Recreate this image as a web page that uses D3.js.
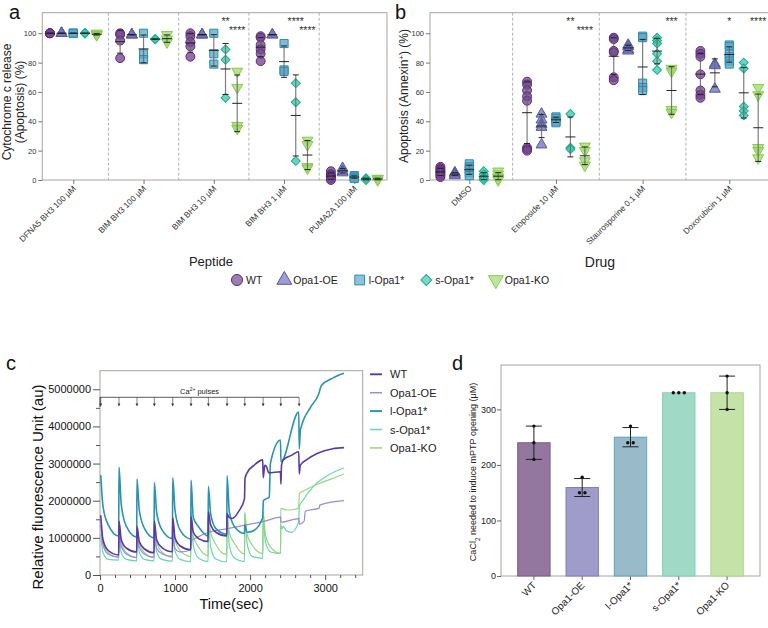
<!DOCTYPE html>
<html>
<head>
<meta charset="utf-8">
<script src="https://cdn.jsdelivr.net/npm/d3@7"></script>
<style>
  body { margin: 0; background: #fff; }
  svg { font-family: Arial, "Liberation Sans", Helvetica, sans-serif; }
</style>
</head>
<body>
<div id="chart"></div>
<script>
//Grupos y categorias
var groups = ["WT", "Opa1-OE", "l-Opa1*", "s-Opa1*", "Opa1-KO"];
var peptides = ["DFNA5 BH3 100 µM", "BIM BH3 100 µM", "BIM BH3 10 µM", "BIM BH3 1 µM", "PUMA2A 100 µM"];
var drugs = ["DMSO", "Etoposide 10 µM", "Staurosporine 0.1 µM", "Doxorubicin 1 µM"];

//Panel a: cytochrome c release (%) per peptide, per group
var cytoC = [
    [[100, 100, 100, 100], [100, 100, 100], [100, 100, 100], [100, 100, 100], [100, 99, 99]],
    [[100, 99, 95, 83], [99, 99, 99], [100, 86, 82], [96, 96, 96], [99, 96, 94]],
    [[100, 98, 94, 91, 84], [99, 99, 99], [100, 86, 79], [89, 82, 56], [74, 63, 37, 35]],
    [[98, 97, 92, 89, 86, 81], [99, 99], [93, 75, 74], [66, 53, 13], [27, 24, 9, 8]],
    [[6, 4, 3, 2, 1, 0], [8, 6, 5], [3, 2, 2, 1], [1, 1, 0], [1, 1, 0]]
];
var cytoSig = [[2, 3, "**"], [2, 4, "****"], [3, 3, "****"], [3, 4, "****"]];

//Panel b: annexin+ (%) per drug, per group
var annexin = [
    [[9, 8, 7, 6, 5, 4, 3, 2], [5, 4, 3], [11, 9, 7, 5, 3], [6, 4, 2, 1, 0], [6, 4, 2, 1, 0]],
    [[67, 65, 61, 57, 54, 22, 21, 20], [45, 41, 38, 36, 24], [43, 42, 40, 39], [45, 22, 21], [23, 20, 13, 10]],
    [[97, 96, 88, 87, 70, 68], [92, 91, 89, 88], [98, 97, 66, 63, 61], [97, 95, 93, 86, 81, 75], [76, 74, 48, 46]],
    [[88, 86, 84, 72, 61, 58, 56], [79, 78, 62], [92, 91, 86, 84, 81, 79], [80, 76, 50, 47, 44], [63, 58, 22, 20, 15]]
];
var annexinSig = [[1, 3, "**"], [1, 4, "****"], [2, 4, "***"], [3, 2, "*"], [3, 4, "****"]];

//Panel c: Ca2+ pulses (sec) and traces (millions au)
var pulseTimes = [10, 253, 493, 724, 969, 1213, 1444, 1693, 1929, 2173, 2409, 2653];
//each row: [peak, +30 s, +100 s, before next pulse]
var wtPulses = [[1.61, 0.95, 0.66, 0.54], [1.45, 0.95, 0.72, 0.62], [1.30, 0.90, 0.70, 0.60], [1.45, 0.95, 0.74, 0.63],
                [1.55, 1.00, 0.78, 0.68], [1.57, 1.15, 0.98, 0.90], [1.70, 1.35, 1.15, 1.05]];
var wtTail = [[1693, 1.65], [1720, 1.55], [1760, 1.52], [1850, 1.72], [1925, 2.05], [1932, 2.6], [1960, 2.75], [2050, 2.95],
              [2168, 3.1], [2175, 2.62], [2195, 2.95], [2215, 2.93], [2250, 2.75], [2404, 2.78], [2411, 2.45], [2418, 2.95],
              [2440, 3.1], [2550, 3.22], [2648, 3.32], [2655, 2.72], [2668, 2.95], [2750, 3.1], [2900, 3.28], [3100, 3.4], [3250, 3.43]];
var oePulses = [[1.35, 0.80, 0.56, 0.48], [1.30, 0.78, 0.56, 0.47], [1.22, 0.75, 0.56, 0.48], [1.15, 0.72, 0.57, 0.50],
                [1.05, 0.72, 0.62, 0.68]];
var oeTail = [[1213, 0.9], [1300, 1.02], [1450, 1.15], [1700, 1.25], [1950, 1.35], [2200, 1.45], [2405, 1.56], [2411, 1.42],
              [2650, 1.52], [2656, 1.37], [2720, 1.45], [2735, 1.72], [2920, 1.8], [2928, 1.88], [3250, 2.0]];
var lPulses = [[2.69, 1.85, 1.35, 1.05], [2.90, 1.90, 1.30, 1.02], [2.58, 1.75, 1.25, 1.00], [2.49, 1.70, 1.22, 0.98],
               [2.62, 1.75, 1.20, 0.97], [2.55, 1.55, 1.30, 1.05], [2.39, 1.65, 1.25, 1.10], [2.67, 1.70, 1.30, 1.12]];
var lTail = [[1929, 1.35], [1960, 1.15], [2050, 1.2], [2168, 1.55], [2176, 2.0], [2255, 2.1], [2270, 3.0], [2404, 3.63],
             [2411, 3.05], [2648, 4.39], [2655, 3.4], [2670, 3.9], [2800, 4.5], [2910, 4.85], [2950, 5.1], [3100, 5.3], [3250, 5.43]];
var sPulses = [[1.10, 0.60, 0.42, 0.40], [1.15, 0.60, 0.42, 0.38], [1.20, 0.62, 0.42, 0.38], [1.25, 0.62, 0.42, 0.37],
               [1.35, 0.65, 0.42, 0.36], [1.75, 0.80, 0.45, 0.36], [1.55, 0.75, 0.43, 0.35], [1.70, 0.80, 0.45, 0.36],
               [1.70, 0.85, 0.50, 0.45], [1.65, 0.90, 0.62, 0.58]];
var sTail = [[2409, 1.34], [2425, 1.25], [2445, 1.3], [2480, 1.2], [2550, 1.15], [2648, 1.43], [2656, 1.85], [2700, 2.0],
             [2850, 2.4], [3050, 2.7], [3250, 2.88]];
var koPulses = [[1.50, 0.90, 0.60, 0.48], [1.40, 0.90, 0.60, 0.47], [1.35, 0.88, 0.60, 0.47], [1.40, 0.90, 0.62, 0.48],
                [1.50, 0.95, 0.65, 0.50], [1.60, 1.05, 0.75, 0.52], [1.70, 1.15, 0.82, 0.55], [1.65, 1.15, 0.85, 0.57],
                [1.65, 1.10, 0.80, 0.58], [1.70, 1.10, 0.75, 0.58]];
var koTail = [[2409, 1.8], [2430, 1.78], [2500, 1.75], [2600, 1.77], [2648, 1.8], [2656, 2.2], [2700, 2.25], [2900, 2.45],
              [3100, 2.6], [3250, 2.72]];

//Panel d: CaCl2 needed (µM), replicates
var mptpDots = [[270, 240, 210], [178, 150, 150], [270, 240, 240], [330, 330, 330], [360, 330, 300]];

//Colores
var dotStroke = ["#5c2a7c", "#5658a6", "#2b8cb2", "#17b093", "#86cc4a"];
var dotFill = ["#74468f", "#7375bd", "#5fa8c6", "#45c7aa", "#a3da72"];
var lineColor = ["#5a3aa6", "#9c88dc", "#2a93b0", "#63d7b6", "#97d676"];
var lineWidth = [1.6, 1.2, 1.6, 1.2, 1.2];
var barFill = ["#93779e", "#9f9cc9", "#98bac9", "#a0d9c6", "#c5e2a9"];
var barStroke = ["#7a5a8a", "#7f7cc0", "#5aa5c2", "#7ad3b6", "#a9d98a"];
var frameColor = "#aaa39c";
var font = "Arial, 'Liberation Sans', sans-serif";

var symbolPaths = [d3.symbol(d3.symbolCircle, 62)(), d3.symbol(d3.symbolTriangle, 52)(), d3.symbol(d3.symbolSquare, 66)(),
                   d3.symbol(d3.symbolSquare, 40)(), d3.symbol(d3.symbolTriangle, 52)()];
var symbolRot = ["", "", "", " rotate(45)", " rotate(180)"];

//Lienzo
var svg = d3.select("#chart")
            .append("svg")
            .attr("width", 768)
            .attr("height", 628);

//Panel de puntos (a y b)
function dotPanel(cats, values, sig, left, right, first, last) {
    var x = d3.scalePoint().domain(cats).range([first, last]);
    var step = x.step();
    var off = d3.scalePoint().domain(groups).range([-step / 3, step / 3]);
    var y = d3.scaleLinear().domain([0, 114]).range([180, 12.7]);
    var g = svg.append("g");

    g.selectAll(".divider")
        .data(cats.slice(1))
        .enter()
        .append("line")
        .attr("x1", d => x(d) - step / 2)
        .attr("x2", d => x(d) - step / 2)
        .attr("y1", y(114))
        .attr("y2", y(0))
        .attr("stroke", "#9d9d9d")
        .attr("stroke-width", 0.8)
        .attr("stroke-dasharray", "3,2");

    g.append("rect")
        .attr("x", left)
        .attr("y", y(114))
        .attr("width", right - left)
        .attr("height", y(0) - y(114))
        .attr("fill", "none")
        .attr("stroke", frameColor);

    var ya = g.append("g")
        .attr("transform", "translate(" + left + ",0)")
        .call(d3.axisLeft(y).tickValues([0, 20, 40, 60, 80, 100]).tickSize(4).tickPadding(2));
    ya.attr("font-family", font);
    ya.select(".domain").remove();
    ya.selectAll("line").attr("stroke", "#777");
    ya.selectAll("text").attr("font-size", 7.5).attr("fill", "#333");

    var xa = g.append("g")
        .attr("transform", "translate(0," + y(0) + ")")
        .call(d3.axisBottom(x).tickSize(4).tickFormat(""));
    xa.select(".domain").remove();
    xa.selectAll("line").attr("stroke", "#777");

    g.selectAll(".cat")
        .data(cats)
        .enter()
        .append("text")
        .attr("transform", d => "translate(" + (x(d) + 3) + ",189) rotate(-45)")
        .attr("text-anchor", "end")
        .attr("font-size", 8.3)
        .attr("fill", "#333")
        .text(d => d);

    cats.forEach((c, i) => {
        groups.forEach((gr, j) => {
            var vals = values[i][j];
            var cx = x(c) + off(gr);
            g.selectAll(null)
                .data(vals)
                .enter()
                .append("path")
                .attr("d", symbolPaths[j])
                .attr("transform", d => "translate(" + cx + "," + y(d) + ")" + symbolRot[j])
                .attr("fill", dotFill[j])
                .attr("fill-opacity", 0.78)
                .attr("stroke", dotStroke[j])
                .attr("stroke-width", 1);

            var m = d3.mean(vals);
            var sd = d3.deviation(vals) || 0;
            g.append("line")
                .attr("x1", cx).attr("x2", cx)
                .attr("y1", y(m - sd)).attr("y2", y(m + sd))
                .attr("stroke", "#666").attr("stroke-width", 1.2).attr("stroke-opacity", 0.85);
            [m - sd, m + sd].forEach(v => {
                g.append("line")
                    .attr("x1", cx - 3).attr("x2", cx + 3)
                    .attr("y1", y(v)).attr("y2", y(v))
                    .attr("stroke", "#222").attr("stroke-width", 1);
            });
            g.append("line")
                .attr("x1", cx - 5).attr("x2", cx + 5)
                .attr("y1", y(m)).attr("y2", y(m))
                .attr("stroke", "#222").attr("stroke-width", 1);
        });
    });

    //Asteriscos
    g.selectAll(".sig")
        .data(sig)
        .enter()
        .append("text")
        .attr("x", d => x(cats[d[0]]) + off(groups[d[1]]))
        .attr("y", d => sig.some(s => s[0] === d[0] && s[1] === d[1] - 1) ? 33.5 : 25)
        .attr("text-anchor", "middle")
        .attr("font-size", 10.5)
        .attr("fill", "#333")
        .text(d => d[2]);
}

dotPanel(peptides, cytoC, cytoSig, 42.3, 387, 73.3, 354.3);
dotPanel(drugs, annexin, annexinSig, 430, 772, 469.3, 729.3);

//Titulos a y b
var yTitleA = svg.append("text")
    .attr("transform", "translate(11,102) rotate(-90)")
    .attr("text-anchor", "middle")
    .attr("font-size", 12)
    .attr("fill", "#222");
yTitleA.append("tspan").attr("x", 0).attr("dy", 0).text("Cytochrome c release");
yTitleA.append("tspan").attr("x", 0).attr("dy", 12.5).text("(Apoptosis) (%)");

var yTitleB = svg.append("text")
    .attr("transform", "translate(408,96) rotate(-90)")
    .attr("text-anchor", "middle")
    .attr("font-size", 12)
    .attr("fill", "#222");
yTitleB.append("tspan").text("Apoptosis (Annexin");
yTitleB.append("tspan").attr("baseline-shift", "super").attr("font-size", 8).text("+");
yTitleB.append("tspan").text(") (%)");

svg.append("text").attr("x", 211).attr("y", 266).attr("text-anchor", "middle")
    .attr("font-size", 13).attr("fill", "#222").text("Peptide");
svg.append("text").attr("x", 600).attr("y", 267).attr("text-anchor", "middle")
    .attr("font-size", 14).attr("fill", "#222").text("Drug");

//Leyenda a y b
var legX = 237;
groups.forEach((gr, j) => {
    svg.append("path")
        .attr("d", d3.symbol(j === 1 || j === 4 ? d3.symbolTriangle : (j === 0 ? d3.symbolCircle : d3.symbolSquare),
                             j === 3 ? 60 : 96)())
        .attr("transform", "translate(" + legX + ",280)" + symbolRot[j])
        .attr("fill", dotFill[j])
        .attr("fill-opacity", 0.7)
        .attr("stroke", dotStroke[j])
        .attr("stroke-width", 1);
    var t = svg.append("text")
        .attr("x", legX + 9)
        .attr("y", 284)
        .attr("font-size", 10.5)
        .attr("fill", "#222")
        .text(gr);
    legX = legX + 9 + t.node().getComputedTextLength() + 22;
});

//Panel c
var xc = d3.scaleLinear().domain([0, 3500]).range([100, 362.7]);
var yc = d3.scaleLinear().domain([0, 5.5e6]).range([575, 370.7]);
var gc = svg.append("g");

gc.append("rect")
    .attr("x", xc(0)).attr("y", yc(5.5e6))
    .attr("width", xc(3500) - xc(0)).attr("height", yc(0) - yc(5.5e6))
    .attr("fill", "none").attr("stroke", frameColor);

var ycAxis = gc.append("g")
    .attr("transform", "translate(" + xc(0) + ",0)")
    .call(d3.axisLeft(yc).tickValues(d3.range(0, 5e6 + 1, 1e6)).tickSize(7).tickPadding(2).tickFormat(d3.format("d")));
var ycMinor = gc.append("g")
    .attr("transform", "translate(" + xc(0) + ",0)")
    .call(d3.axisLeft(yc).tickValues(d3.range(5e5, 5e6, 1e6)).tickSize(4).tickFormat(""));
var xcAxis = gc.append("g")
    .attr("transform", "translate(0," + yc(0) + ")")
    .call(d3.axisBottom(xc).tickValues([0, 1000, 2000, 3000]).tickSize(5).tickPadding(4).tickFormat(d3.format("d")));
var xcMinor = gc.append("g")
    .attr("transform", "translate(0," + yc(0) + ")")
    .call(d3.axisBottom(xc).tickValues(d3.range(200, 3500, 200).filter(d => d % 1000 !== 0)).tickSize(3).tickFormat(""));
[ycAxis, ycMinor, xcAxis, xcMinor].forEach(a => {
    a.attr("font-family", font);
    a.select(".domain").remove();
    a.selectAll("line").attr("stroke", "#555");
    a.selectAll("text").attr("font-size", 11).attr("fill", "#111");
});

//Pulsos de Ca2+
var lastPulse = pulseTimes[pulseTimes.length - 1];
gc.append("line")
    .attr("x1", xc(0)).attr("x2", xc(lastPulse))
    .attr("y1", 397.3).attr("y2", 397.3)
    .attr("stroke", "#333").attr("stroke-width", 0.8);
gc.append("line")
    .attr("x1", xc(0)).attr("x2", xc(0))
    .attr("y1", 397.3).attr("y2", 407)
    .attr("stroke", "#333").attr("stroke-width", 0.8);
gc.selectAll(".arrow")
    .data(pulseTimes)
    .enter()
    .append("line")
    .attr("x1", d => xc(d)).attr("x2", d => xc(d))
    .attr("y1", 397.3).attr("y2", 404)
    .attr("stroke", "#333").attr("stroke-width", 0.6);
gc.selectAll(".head")
    .data(pulseTimes)
    .enter()
    .append("path")
    .attr("d", d => "M" + (xc(d) - 1.4) + ",403.5L" + (xc(d) + 1.4) + ",403.5L" + xc(d) + ",406.5Z")
    .attr("fill", "#333");
var caLabel = gc.append("text")
    .attr("x", (xc(0) + xc(lastPulse)) / 2)
    .attr("y", 394)
    .attr("text-anchor", "middle")
    .attr("font-size", 7.5)
    .attr("fill", "#222");
caLabel.append("tspan").text("Ca");
caLabel.append("tspan").attr("baseline-shift", "super").attr("font-size", 5).text("2+");
caLabel.append("tspan").text(" pulses");

//Trazas
function pulseTrace(rows, tail) {
    var pts = [];
    rows.forEach((r, k) => {
        var t0 = pulseTimes[k], t1 = pulseTimes[k + 1];
        pts.push([t0, r[0]], [t0 + 30, r[1]], [t0 + 100, r[2]], [t1 - 4, r[3]]);
    });
    return pts.concat(tail);
}
var traces = [pulseTrace(wtPulses, wtTail), pulseTrace(oePulses, oeTail), pulseTrace(lPulses, lTail),
              pulseTrace(sPulses, sTail), pulseTrace(koPulses, koTail)];
var line = d3.line()
    .x(d => xc(d[0]))
    .y(d => yc(d[1] * 1e6))
    .curve(d3.curveMonotoneX);
[3, 4, 1, 2, 0].forEach(j => {
    gc.append("path")
        .attr("d", line(traces[j]))
        .attr("fill", "none")
        .attr("stroke", lineColor[j])
        .attr("stroke-width", lineWidth[j]);
});

//Leyenda c
groups.forEach((gr, j) => {
    var ly = 374.3 + j * 18.4;
    gc.append("line")
        .attr("x1", 370).attr("x2", 382)
        .attr("y1", ly).attr("y2", ly)
        .attr("stroke", lineColor[j]).attr("stroke-width", lineWidth[j] + 0.3);
    gc.append("text")
        .attr("x", 390).attr("y", ly + 4)
        .attr("font-size", 11).attr("fill", "#222")
        .text(gr);
});

gc.append("text")
    .attr("transform", "translate(43,487) rotate(-90)")
    .attr("text-anchor", "middle")
    .attr("font-size", 15)
    .attr("fill", "#111")
    .text("Relative fluorescence Unit (au)");
gc.append("text")
    .attr("x", (xc(0) + xc(3500)) / 2).attr("y", 609)
    .attr("text-anchor", "middle")
    .attr("font-size", 14.5)
    .attr("fill", "#111")
    .text("Time(sec)");

//Panel d
var xd = d3.scaleBand().domain(groups).range([501, 760]).paddingInner(0.33).paddingOuter(0.346);
var yd = d3.scaleLinear().domain([0, 380]).range([576, 365]);
var gd = svg.append("g");

gd.append("rect")
    .attr("x", 501).attr("y", yd(380))
    .attr("width", 259).attr("height", yd(0) - yd(380))
    .attr("fill", "none").attr("stroke", frameColor);

var ydAxis = gd.append("g")
    .attr("transform", "translate(501,0)")
    .call(d3.axisLeft(yd).tickValues([0, 100, 200, 300]).tickSize(4).tickPadding(1));
var xdAxis = gd.append("g")
    .attr("transform", "translate(0," + yd(0) + ")")
    .call(d3.axisBottom(xd).tickSize(4).tickFormat(""));
[ydAxis, xdAxis].forEach(a => {
    a.attr("font-family", font);
    a.select(".domain").remove();
    a.selectAll("line").attr("stroke", "#666");
    a.selectAll("text").attr("font-size", 9).attr("fill", "#222");
});

gd.selectAll(".bar")
    .data(groups)
    .enter()
    .append("rect")
    .attr("x", d => xd(d))
    .attr("y", (d, i) => yd(d3.mean(mptpDots[i])))
    .attr("width", xd.bandwidth())
    .attr("height", (d, i) => yd(0) - yd(d3.mean(mptpDots[i])))
    .attr("fill", (d, i) => barFill[i])
    .attr("stroke", (d, i) => barStroke[i])
    .attr("stroke-width", 1);

groups.forEach((gr, i) => {
    var vals = mptpDots[i];
    var cx = xd(gr) + xd.bandwidth() / 2;
    var m = d3.mean(vals);
    var sd = d3.deviation(vals) || 0;
    if (sd > 0) {
        gd.append("line")
            .attr("x1", cx).attr("x2", cx)
            .attr("y1", yd(m - sd)).attr("y2", yd(m + sd))
            .attr("stroke", "#222").attr("stroke-width", 1);
        [m - sd, m + sd].forEach(v => {
            gd.append("line")
                .attr("x1", cx - 8).attr("x2", cx + 8)
                .attr("y1", yd(v)).attr("y2", yd(v))
                .attr("stroke", "#222").attr("stroke-width", 1);
        });
    }
    //puntos repetidos se separan
    var counts = d3.rollup(vals, v => v.length, v => v);
    var seen = new Map();
    vals.forEach(v => {
        var n = counts.get(v);
        var k = seen.get(v) || 0;
        seen.set(v, k + 1);
        gd.append("circle")
            .attr("cx", cx + (k - (n - 1) / 2) * 5.5)
            .attr("cy", yd(v))
            .attr("r", 1.7)
            .attr("fill", "#111");
    });
});

gd.selectAll(".catd")
    .data(groups)
    .enter()
    .append("text")
    .attr("transform", d => "translate(" + (xd(d) + xd.bandwidth() / 2 + 3) + ",586) rotate(-45)")
    .attr("text-anchor", "end")
    .attr("font-size", 10)
    .attr("fill", "#222")
    .text(d => d);

var yTitleD = gd.append("text")
    .attr("transform", "translate(476,472) rotate(-90)")
    .attr("text-anchor", "middle")
    .attr("font-size", 9)
    .attr("fill", "#222");
yTitleD.append("tspan").text("CaCl");
yTitleD.append("tspan").attr("baseline-shift", "sub").attr("font-size", 6.5).text("2");
yTitleD.append("tspan").text(" needed to induce mPTP opening (μM)");

//Letras de panel
[["a", 9, 18.5], ["b", 395, 18.5], ["c", 6, 370], ["d", 452, 370]].forEach(p => {
    svg.append("text")
        .attr("x", p[1]).attr("y", p[2])
        .attr("font-size", 20)
        .attr("fill", "#111")
        .text(p[0]);
});
</script>
</body>
</html>
